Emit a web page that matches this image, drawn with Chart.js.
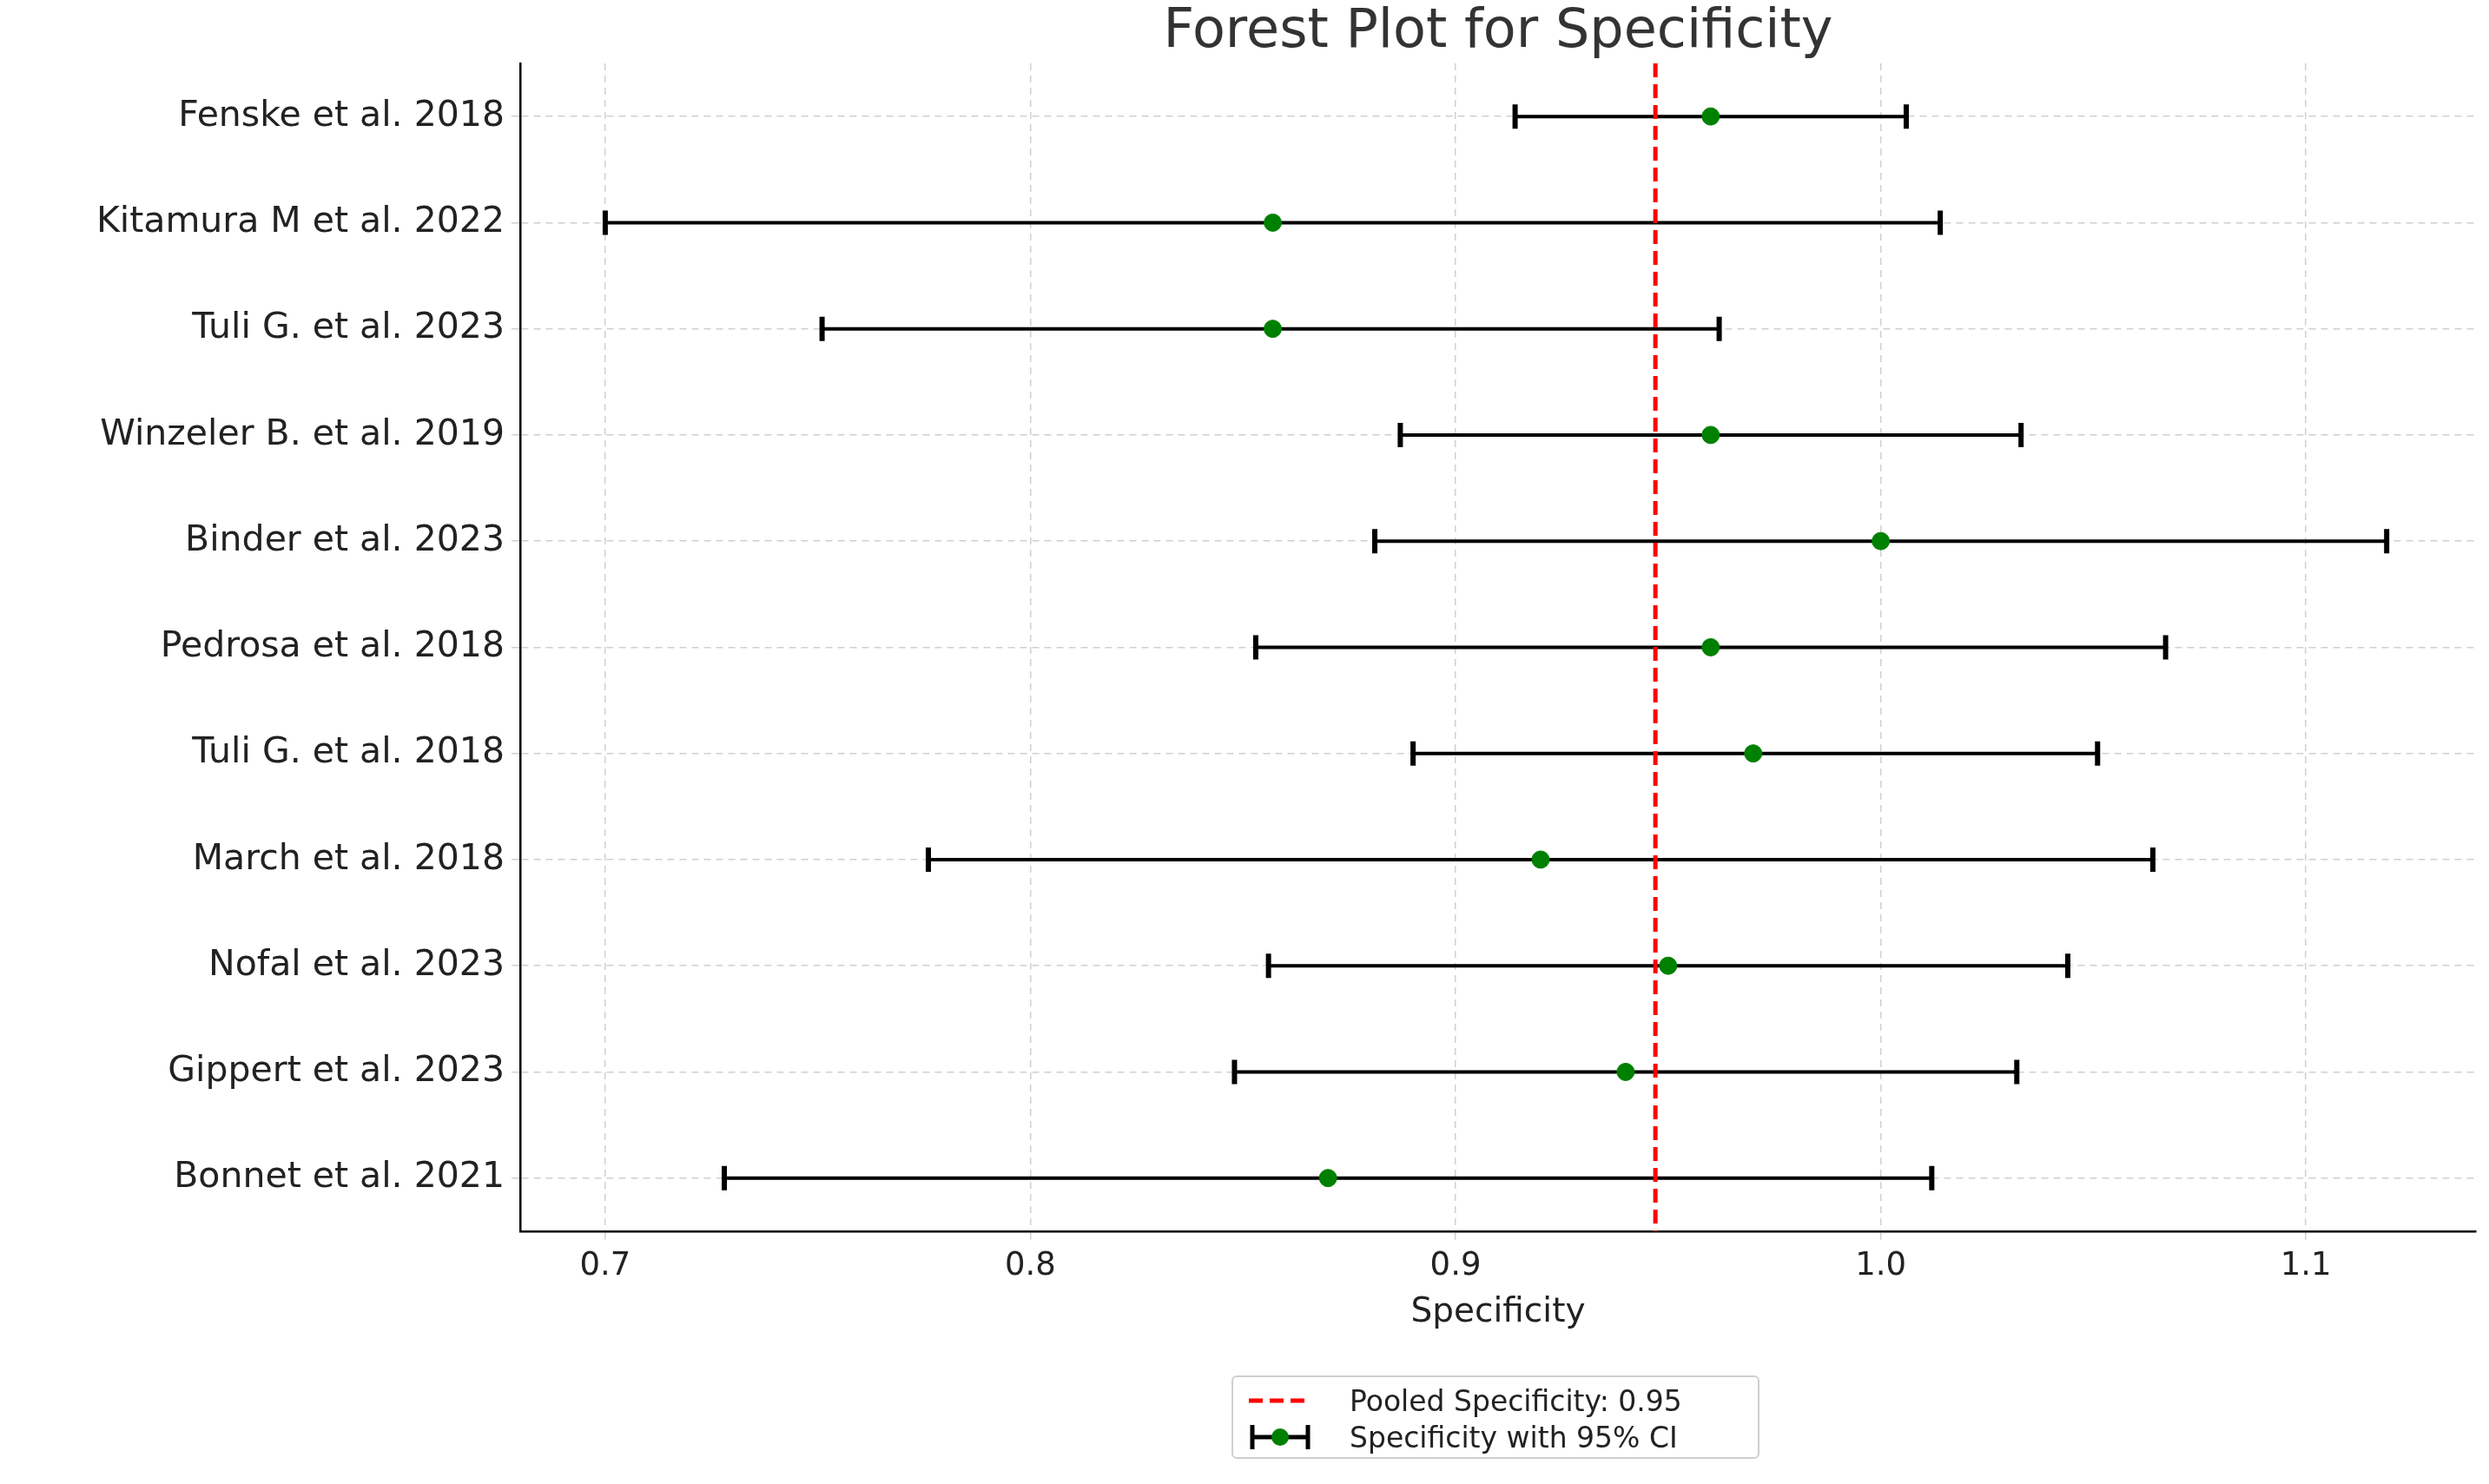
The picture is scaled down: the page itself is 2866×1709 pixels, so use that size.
<!DOCTYPE html>
<html>
<head>
<meta charset="utf-8">
<script src="https://cdn.jsdelivr.net/npm/chart.js@4/dist/chart.umd.min.js"></script>
<style>
  html, body { margin: 0; padding: 0; background: #fff; }
  #wrap { position: relative; width: 2866px; height: 1709px; }
  #legend {
    position: absolute; left: 1418px; top: 1584px; width: 608px; height: 96px;
    border: 2px solid #d0d0d0; border-radius: 6px; box-sizing: border-box;
    font-family: "DejaVu Sans", sans-serif; font-size: 33px; color: #222;
    padding: 6px 14px;
  }
  .row { display: flex; align-items: center; height: 42px; }
  .key { width: 80px; height: 40px; margin-right: 40px; }
</style>
</head>
<body>
<div id="wrap">
  <canvas id="c" width="2866" height="1709"></canvas>
  <div id="legend">
    <div class="row"><canvas class="key" id="k1" width="80" height="40"></canvas>Pooled Specificity: 0.95</div>
    <div class="row"><canvas class="key" id="k2" width="80" height="40"></canvas>Specificity with 95% CI</div>
  </div>
</div>
<script>
const studies = [
  "Fenske et al. 2018", "Kitamura M et al. 2022", "Tuli G. et al. 2023", "Winzeler B. et al. 2019",
  "Binder et al. 2023", "Pedrosa et al. 2018", "Tuli G. et al. 2018", "March et al. 2018",
  "Nofal et al. 2023", "Gippert et al. 2023", "Bonnet et al. 2021",
];
const specificity = [0.960, 0.857, 0.857, 0.960, 1.000, 0.960, 0.970, 0.920, 0.950, 0.940, 0.870];
const ciLow = [0.914, 0.700, 0.751, 0.887, 0.881, 0.853, 0.890, 0.776, 0.856, 0.848, 0.728];
const ciHigh = [1.006, 1.014, 0.962, 1.033, 1.119, 1.067, 1.051, 1.064, 1.044, 1.032, 1.012];
const pooled = 0.947;
const xTicks = [0.7, 0.8, 0.9, 1.0, 1.1];

const FONT = "DejaVu Sans";

const errorBars = {
  id: "errorBars",
  beforeDatasetsDraw(chart) {
    const { ctx, scales: { x, y } } = chart;
    ctx.save();
    ctx.strokeStyle = "#000";
    studies.forEach((s, i) => {
      const py = y.getPixelForValue(i);
      const x0 = x.getPixelForValue(ciLow[i]);
      const x1 = x.getPixelForValue(ciHigh[i]);
      ctx.lineWidth = 4;
      ctx.beginPath();
      ctx.moveTo(x0, py); ctx.lineTo(x1, py);
      ctx.stroke();
      ctx.lineWidth = 6;
      ctx.beginPath();
      ctx.moveTo(x0, py - 14); ctx.lineTo(x0, py + 14);
      ctx.moveTo(x1, py - 14); ctx.lineTo(x1, py + 14);
      ctx.stroke();
    });
    const px = x.getPixelForValue(pooled);
    ctx.strokeStyle = "#ff0000";
    ctx.lineWidth = 5;
    ctx.setLineDash([16, 8]);
    ctx.beginPath();
    ctx.moveTo(px, chart.chartArea.top); ctx.lineTo(px, chart.chartArea.bottom);
    ctx.stroke();
    ctx.restore();
  },
  afterDraw(chart) {
    const { ctx } = chart;
    ctx.save();
    ctx.fillStyle = "#333";
    ctx.font = `62px "${FONT}"`;
    ctx.textAlign = "center";
    ctx.textBaseline = "middle";
    ctx.fillText("Forest Plot for Specificity", (chart.chartArea.left + chart.chartArea.right) / 2, 38);
    ctx.restore();
  },
};

new Chart(document.getElementById("c"), {
  type: "scatter",
  data: {
    datasets: [{
      data: specificity.map((v, i) => ({ x: v, y: i })),
      backgroundColor: "#008000",
      borderColor: "#008000",
      pointRadius: 10,
    }],
  },
  options: {
    responsive: false,
    animation: false,
    devicePixelRatio: 1,
    layout: { padding: { top: 73, right: 15, left: 0, bottom: 170 } },
    plugins: { legend: { display: false }, tooltip: { enabled: false } },
    scales: {
      x: {
        type: "linear", min: 0.68, max: 1.14,
        afterBuildTicks: (axis) => { axis.ticks = xTicks.map((v) => ({ value: v })); },
        grid: { color: "#d0d0d0", lineWidth: 1.5, tickLength: 10 },
        border: { color: "#000", width: 2.5, dash: [8, 6] },
        ticks: { color: "#222", font: { family: FONT, size: 37 }, callback: (v) => v.toFixed(1), padding: 8 },
        title: { display: true, text: "Specificity", color: "#222", font: { family: FONT, size: 39 }, padding: { top: 0 } },
      },
      y: {
        type: "linear", min: -0.5, max: 10.5, reverse: true,
        afterBuildTicks: (axis) => { axis.ticks = studies.map((_, i) => ({ value: i })); },
        afterFit: (axis) => { axis.width = 599; },
        grid: { color: "#d0d0d0", lineWidth: 1.5, tickLength: 10 },
        border: { color: "#000", width: 2.5, dash: [8, 6] },
        ticks: { color: "#222", font: { family: FONT, size: 41 }, callback: (v) => studies[v], padding: 8 },
      },
    },
  },
  plugins: [errorBars],
});

// legend keys
const k1 = document.getElementById("k1").getContext("2d");
k1.strokeStyle = "#ff0000"; k1.lineWidth = 5; k1.setLineDash([16, 8]);
k1.beginPath(); k1.moveTo(4, 20); k1.lineTo(76, 20); k1.stroke();
const k2 = document.getElementById("k2").getContext("2d");
k2.strokeStyle = "#000"; k2.lineWidth = 5;
k2.beginPath(); k2.moveTo(8, 20); k2.lineTo(72, 20);
k2.moveTo(8, 6); k2.lineTo(8, 34); k2.moveTo(72, 6); k2.lineTo(72, 34); k2.stroke();
k2.fillStyle = "#008000"; k2.beginPath(); k2.arc(40, 20, 10, 0, Math.PI * 2); k2.fill();
</script>
</body>
</html>
